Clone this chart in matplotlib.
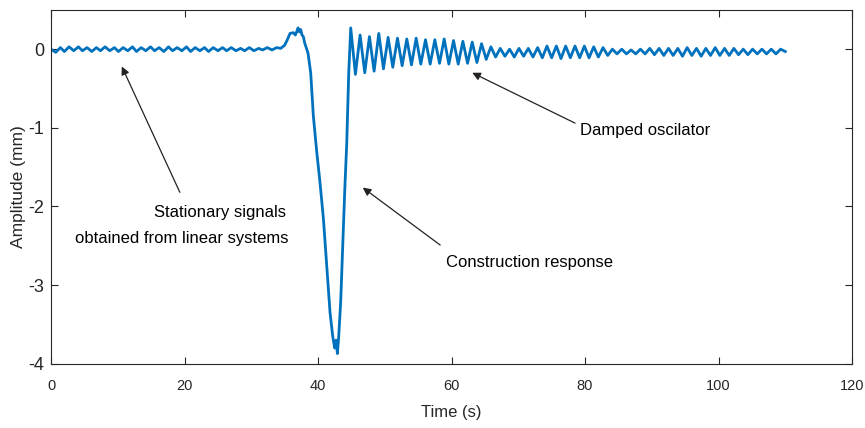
import numpy as np
import matplotlib
matplotlib.use("Agg")
import matplotlib.pyplot as plt

plt.rcParams["font.family"] = ["Liberation Sans", "DejaVu Sans"]
plt.rcParams["axes.unicode_minus"] = False

# -----------------------------
# Data (extremes of the trace)
# -----------------------------
# quiet part, before the event
t_quiet = [0.0, 0.7, 1.4, 2.0, 2.7, 3.4, 4.1, 4.7, 5.4, 6.1,
           6.8, 7.4, 8.1, 8.8, 9.5, 10.1, 10.8, 11.5, 12.2, 12.8,
           13.5, 14.2, 14.9, 15.5, 16.2, 16.9, 17.6, 18.2, 18.9, 19.6,
           20.3, 20.9, 21.6, 22.3, 23.0, 23.6, 24.3, 25.0, 25.7, 26.3,
           27.0, 27.7, 28.4, 29.0, 29.7, 30.4, 31.1, 31.7, 32.4, 33.1,
           33.8, 34.4]
y_quiet = [0.00, -0.04, 0.02, -0.03, 0.03, -0.02, 0.03, -0.02, 0.02, -0.03,
           0.02, -0.02, 0.03, -0.02, 0.02, -0.03, 0.02, -0.02, 0.03, -0.03,
           0.02, -0.02, 0.03, -0.02, 0.02, -0.03, 0.03, -0.02, 0.02, -0.02,
           0.03, -0.03, 0.02, -0.02, 0.02, -0.03, 0.02, -0.02, 0.02, -0.02,
           0.02, -0.02, 0.01, -0.02, 0.02, -0.02, 0.01, -0.01, 0.02, -0.01,
           0.02, 0.01]

# construction event
t_event = [35.0, 35.4, 35.8, 36.3, 36.6, 36.8, 37.0, 37.2, 37.4, 37.6,
           37.8, 38.0, 38.5, 38.9, 39.3, 39.8, 40.3, 40.8, 41.3, 41.8,
           42.2, 42.5, 42.7, 42.9, 43.1, 43.4, 43.7, 44.0, 44.3, 44.6,
           44.9]
y_event = [0.05, 0.12, 0.20, 0.21, 0.18, 0.22, 0.27, 0.22, 0.25, 0.18,
           0.16, 0.08, -0.05, -0.30, -0.85, -1.30, -1.70, -2.15, -2.75, -3.35,
           -3.65, -3.80, -3.70, -3.87, -3.65, -3.20, -2.50, -1.80, -1.20, -0.30,
           0.27]

# damped oscillation afterwards
t_decay = [45.6, 46.3, 47.0, 47.7, 48.4, 49.1, 49.8, 50.5, 51.2, 51.9,
           52.6, 53.3, 54.0, 54.7, 55.4, 56.1, 56.8, 57.5, 58.2, 58.9,
           59.6, 60.3, 61.0, 61.7, 62.4, 63.1, 63.8, 64.5, 65.2, 65.9,
           66.6, 67.3, 68.0, 68.7, 69.4, 70.1, 70.8, 71.5, 72.2, 72.9,
           73.6, 74.3, 75.0, 75.7, 76.4, 77.1, 77.8, 78.5, 79.2, 79.9,
           80.6, 81.3, 82.0, 82.7, 83.4, 84.1, 84.8, 85.5, 86.2, 86.9,
           87.6, 88.3, 89.0, 89.7, 90.4, 91.1, 91.8, 92.5, 93.2, 93.9,
           94.6, 95.3, 96.0, 96.7, 97.4, 98.1, 98.8, 99.5, 100.2, 100.9,
           101.6, 102.3, 103.0, 103.7, 104.4, 105.1, 105.8, 106.5, 107.2, 107.9,
           108.6, 109.3, 110.0]
y_decay = [-0.32, 0.18, -0.30, 0.16, -0.28, 0.20, -0.25, 0.15, -0.23, 0.14,
           -0.21, 0.13, -0.20, 0.14, -0.19, 0.12, -0.19, 0.12, -0.18, 0.13,
           -0.19, 0.11, -0.19, 0.10, -0.18, 0.09, -0.17, 0.07, -0.13, 0.03,
           -0.10, 0.01, -0.09, 0.00, -0.10, 0.01, -0.09, 0.01, -0.10, 0.02,
           -0.11, 0.04, -0.11, 0.04, -0.12, 0.04, -0.11, 0.04, -0.11, 0.04,
           -0.11, 0.03, -0.10, 0.02, -0.08, 0.00, -0.06, 0.00, -0.06, -0.01,
           -0.06, 0.00, -0.06, 0.01, -0.07, 0.01, -0.08, 0.01, -0.08, 0.01,
           -0.09, 0.02, -0.08, 0.01, -0.09, 0.01, -0.08, 0.02, -0.08, 0.01,
           -0.08, 0.01, -0.07, 0.00, -0.07, 0.00, -0.06, 0.00, -0.06, 0.00,
           -0.06, 0.00, -0.03]

time = np.array(t_quiet + t_event + t_decay)
amp = np.array(y_quiet + y_event + y_decay)

x_ticks = [0, 20, 40, 60, 80, 100, 120]
y_ticks = [-4, -3, -2, -1, 0]

# -----------------------------
# Plot
# -----------------------------
fig = plt.figure(figsize=(8.65, 4.28), dpi=100)
ax = fig.add_axes([0.059, 0.150, 0.926, 0.827])

ax.plot(time, amp, color="#0072BD", linewidth=2.0)

ax.set_xlim(0, 120)
ax.set_ylim(-4, 0.5)
ax.set_xticks(x_ticks)
ax.set_yticks(y_ticks)
ax.set_xticklabels([str(v) for v in x_ticks], fontsize=10.5)
ax.set_yticklabels([str(v) for v in y_ticks], fontsize=13)

ax.tick_params(direction="in", length=5, width=0.8, colors="#262626",
               top=True, right=True)
ax.tick_params(axis="x", pad=11)
ax.tick_params(axis="y", pad=5)
for s in ax.spines.values():
    s.set_color("#262626")
    s.set_linewidth(0.8)

ax.set_xlabel("Time (s)", fontsize=12, color="#262626")
ax.xaxis.set_label_coords(0.5, -0.115)
ax.set_ylabel("Amplitude (mm)", fontsize=12.5, color="#262626")
ax.yaxis.set_label_coords(-0.031, 0.5)

arrow = dict(arrowstyle="-|>", color="#222222", lw=0.9,
             mutation_scale=12, shrinkA=0, shrinkB=0)

ax.annotate("", xy=(10.6, -0.22), xytext=(19.3, -1.82), arrowprops=arrow)
ax.text(35.2, -2.08, "Stationary signals", fontsize=12, ha="right", va="center")
ax.text(35.6, -2.41, "obtained from linear systems", fontsize=12, ha="right", va="center")

ax.annotate("", xy=(46.7, -1.76), xytext=(58.3, -2.49), arrowprops=arrow)
ax.text(71.7, -2.71, "Construction response", fontsize=12, ha="center", va="center")

ax.annotate("", xy=(63.1, -0.30), xytext=(78.5, -0.94), arrowprops=arrow)
ax.text(89.0, -1.04, "Damped oscilator", fontsize=12, ha="center", va="center")

plt.savefig("out.png", dpi=100)
plt.close()
